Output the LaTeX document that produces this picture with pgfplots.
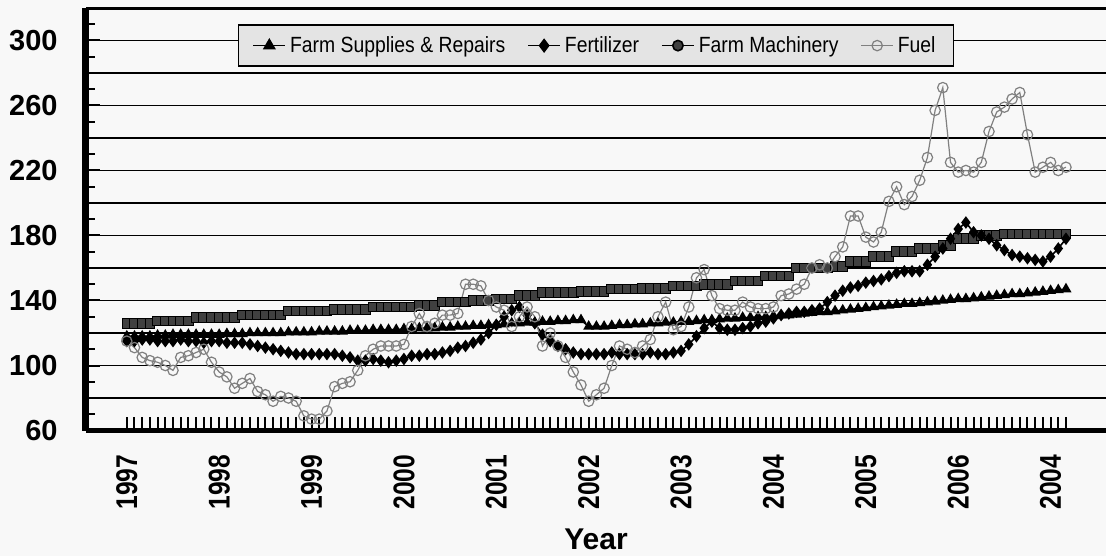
\documentclass[border=0pt]{standalone}
\usepackage{pgfplots}
\pgfplotsset{compat=1.18}
\usepackage{pgfplotstable}
\usepackage{fontspec}
\setmainfont{Liberation Sans}
\newfontfamily\legfont[FakeStretch=0.88]{Liberation Sans}
\newfontfamily\yrfont[FakeStretch=0.82]{Liberation Sans}
\usetikzlibrary{backgrounds}
\definecolor{bg}{RGB}{248,248,248}
\definecolor{legbg}{RGB}{228,228,228}
\definecolor{fuelc}{RGB}{128,128,128}
\definecolor{machc}{RGB}{64,64,64}

\pgfplotstableread{
m sup fer mac fuel
0 118 115 126 115
1 118 115 126 111
2 118 116 126 105
3 118 116 126 103
4 118.5 115 127.5 102
5 118.5 115 127.5 100
6 119 115 127.5 97
7 119 116 127.5 105
8 119 115 127.5 106
9 119 115 129.5 108
10 119 114 129.5 110
11 119 115 129.5 102
12 119 115 129.5 96
13 119.5 114 129.5 93
14 119.5 114 129.5 86
15 119.5 114 131 89
16 120 113 131 92
17 120 112 131 84
18 120 111 131 82
19 120 110 131 78
20 120 109 131 81
21 120.5 108 133.5 80
22 120.5 107 133.5 78
23 120.5 107 133.5 69
24 120.5 107 133.5 67
25 121 107 133.5 67
26 121 107 133.5 72
27 121 107 134.5 87
28 121 106 134.5 89
29 121.5 105 134.5 90
30 121.5 103 134.5 97
31 121.5 103 134.5 106
32 122 104 136 110
33 122 103 136 112
34 122 102 136 112
35 122 103 136 112
36 122.5 104 136 113
37 122.5 106 136 124
38 123 106 137 132
39 123 107 137 124
40 123 107 137 126
41 123.5 108 139 131
42 123.5 109 139 131
43 124 111 139 132
44 124 112 139 150
45 124.5 114 140 150
46 124.5 116 140 149
47 125 120 140 140
48 125 125 141 136
49 125.5 130 141 134
50 126 134 141 124
51 126 136 143 130
52 126.5 131 143 136
53 126.5 126 143 130
54 127 119 145 112
55 127 115 145 120
56 127.5 112 145 112
57 127.5 110 145 105
58 128 108 145 96
59 128 107 145.5 88
60 124 107 145.5 78
61 124 107 145.5 82
62 124 107 145.5 86
63 124.5 108 147 100
64 125 107 147 112
65 125 107 147 110
66 125.5 107 147 108
67 125.5 107 147.5 112
68 126 108 147.5 116
69 126 107 147.5 130
70 126.5 107 147.5 139
71 126.5 108 149 122
72 127 109 149 124
73 127 113 149 136
74 127.5 118 149 154
75 128 123 150 159
76 128 127 150 143
77 128.5 123 150 135
78 129 122 150 134
79 129 122 152 134
80 129.5 123 152 139
81 129.5 124 152 136
82 130 126 152 135
83 130 127 155 135
84 130.5 129 155 136
85 131 131 155 143
86 131 132 155 144
87 131.5 133 160 147
88 132 133 160 150
89 132.5 134 160 160
90 133 135 160 162
91 133 139 160 160
92 133.5 143 161 167
93 134 146 161 173
94 134.5 148 164 192
95 135 149 164 192
96 135.5 151 164 179
97 136 152 167 176
98 136.5 153 167 182
99 137 155 167 201
100 137.5 157 170 210
101 138 158 170 199
102 138 158 170 204
103 138.5 158 172 214
104 139 162 172 228
105 139.5 167 172 257
106 140 172 174 271
107 140.5 178 174 225
108 141 184 178 219
109 141 188 178 220
110 141.5 182 178 219
111 142 180 180 225
112 142.5 178 180 244
113 143 174 180 256
114 143.5 171 181 259
115 144 168 181 264
116 144 167 181 268
117 144.5 166 181 242
118 145 165 181 219
119 145.5 164 181 222
120 146 167 181 225
121 146.5 172 181 220
122 147 178 181 222
}\data

\begin{document}
\begin{tikzpicture}
\begin{axis}[
  at={(0,0)}, anchor=south west,
  scale only axis, width=510pt, height=211.25pt,
  xmin=-5.3, xmax=127.2, ymin=60, ymax=320,
  axis x line*=bottom, axis y line*=left,
  x axis line style={line width=2.5pt, -},
  y axis line style={line width=3.5pt, -},
  tick align=inside,
  xtick={0,...,122},
  xticklabels={1997,,,,,,,,,,,,1998,,,,,,,,,,,,1999,,,,,,,,,,,,2000,,,,,,,,,,,,2001,,,,,,,,,,,,2002,,,,,,,,,,,,2003,,,,,,,,,,,,2004,,,,,,,,,,,,2005,,,,,,,,,,,,2006,,,,,,,,,,,,2004},
  ytick={60,80,...,300},
  yticklabels={60,,100,,140,,180,,220,,260,,300},
  minor ytick={70,90,...,310},
  major tick length=7pt, minor tick length=4.5pt,
  tick style={black, line width=1pt},
  ymajorgrids, grid style={black, line width=0.8pt},
  xticklabel style={font=\yrfont\bfseries\fontsize{15}{15}\selectfont, yshift=-12pt, rotate=90, anchor=east, inner sep=0pt},
  yticklabel style={font=\bfseries\fontsize{14.5}{14.5}\selectfont, anchor=east, inner sep=0pt, xshift=-14pt},
  xlabel={Year},
  xlabel style={font=\bfseries\fontsize{15}{15}\selectfont, at={(axis description cs:0.5,0)}, anchor=north, yshift=-49pt, inner sep=0pt},
  legend style={at={(0.5,0.911)}, anchor=center, legend columns=4, fill=legbg, draw=black, line width=0.8pt,
    font=\legfont\fontsize{11}{11}\selectfont, inner xsep=7pt, inner ysep=3.5pt,
    /tikz/every even column/.append style={column sep=9pt}},
  legend image code/.code={\draw[mark repeat=2,mark phase=2,#1] plot coordinates {(0pt,0pt) (8pt,0pt) (16pt,0pt)};},
]
\addlegendimage{black, line width=0.8pt, mark=triangle*, mark size=3pt}
\addlegendentry{Farm Supplies \& Repairs}
\addlegendimage{black, line width=0.8pt, mark=diamond*, mark size=3pt}
\addlegendentry{Fertilizer}
\addlegendimage{black, line width=0.8pt, mark=*, mark size=2.6pt, mark options={fill=machc}}
\addlegendentry{Farm Machinery}
\addlegendimage{fuelc, line width=0.6pt, mark=o, mark size=2.6pt}
\addlegendentry{Fuel}

\addplot[black, line width=0.8pt, mark=square*, mark size=2.4pt, mark options={fill=machc, draw=black, line width=0.5pt}, forget plot] table[x=m, y=mac] {\data};
\addplot[black, line width=0.8pt, mark=diamond*, mark size=2.5pt, mark options={fill=black}, forget plot] table[x=m, y=fer] {\data};
\addplot[black, line width=0.8pt, mark=triangle*, mark size=2.4pt, mark options={fill=black}, forget plot] table[x=m, y=sup] {\data};
\addplot[fuelc, line width=0.6pt, mark=o, mark size=2.6pt, mark options={draw=fuelc, line width=0.6pt}, forget plot] table[x=m, y=fuel] {\data};

\draw[line width=1.8pt] (rel axis cs:0,1) -- (rel axis cs:1,1);
\end{axis}
\pgfresetboundingbox
\path[use as bounding box] (-43pt,-62.75pt) rectangle (510pt,215.25pt);
\begin{scope}[on background layer]
\fill[bg] (-43pt,-62.75pt) rectangle (510pt,215.25pt);
\end{scope}
\end{tikzpicture}
\end{document}
